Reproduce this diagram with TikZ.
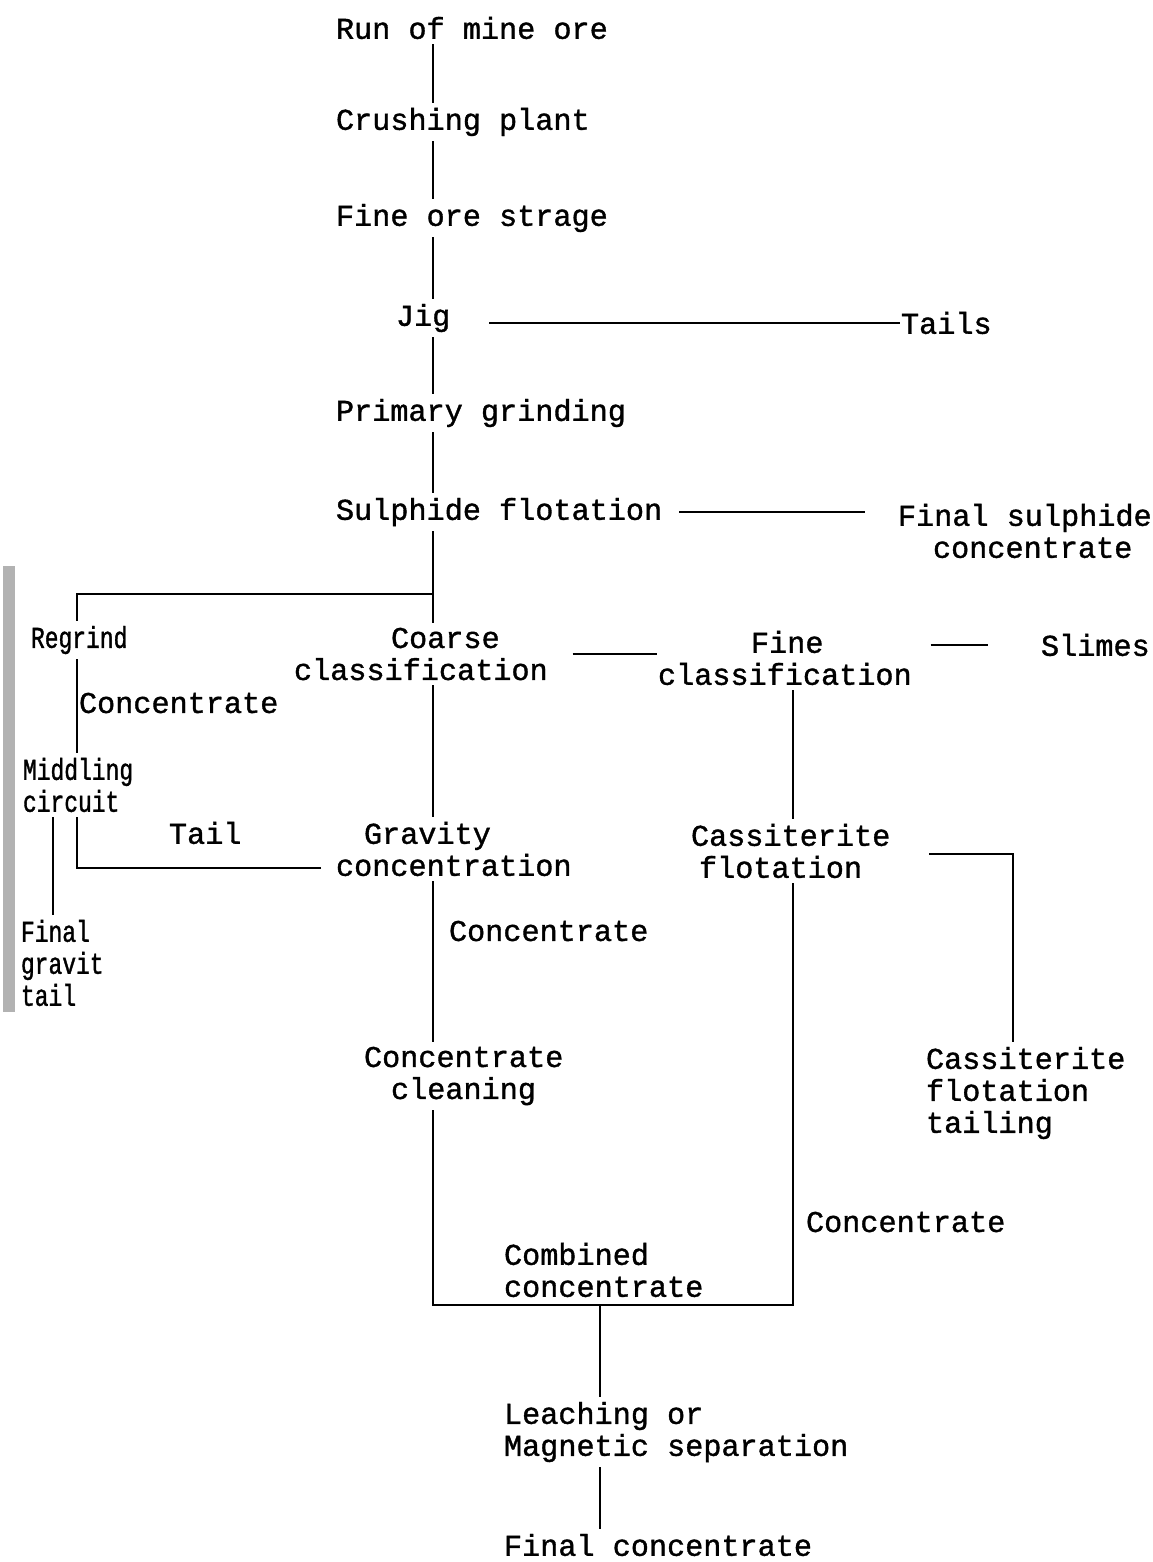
\documentclass[tikz,border=0pt]{standalone}
\usepackage{fontspec}
\newfontfamily\flowfont[FakeBold=1.2]{Liberation Mono}
\newfontfamily\narrowfont[FakeStretch=0.76,FakeBold=1.2]{Liberation Mono}
\begin{document}
\begin{tikzpicture}[x=0.5pt,y=-0.5pt,line width=1pt,
    every node/.style={font={\flowfont\fontsize{15.1pt}{16pt}\selectfont},
        inner xsep=0pt,inner ysep=2pt,anchor=west,align=left},
    narrow/.style={font={\narrowfont\fontsize{15.1pt}{16pt}\selectfont}}]
\useasboundingbox (0,0) rectangle (1152,1562);
% scanned edge
\fill[gray!60] (3,566) rectangle (15,1012);
% guide lines
\coordinate (spine) at (433,0);
\coordinate (fx) at (793,0);
\coordinate (lx) at (77,0);
\coordinate (gx) at (53,0);
\coordinate (tx) at (1013,0);
\coordinate (split) at (433,594);
\coordinate (bot) at (600,1305);
% main line
\node (run) at (335,28) {Run of mine ore};
\node (crush) at (335,122) {Crushing plant};
\node (store) at (335,218) {Fine ore strage};
\node (jig) at (395,318) {Jig};
\node (tails) at (900,323) {Tails};
\node (grind) at (335,413) {Primary grinding};
\node (sulf) at (335,512) {Sulphide flotation};
\node (finsulf) at (897,531) {Final sulphide\\\hspace*{17.5pt}concentrate};
% left side
\node[narrow] (regrind) at (30,640) {Regrind};
\node (leftconc) at (78,703) {Concentrate};
\node[narrow] (middling) at (22,785) {Middling\\circuit};
\node (tail) at (168,833) {Tail};
\node[narrow] (fgtail) at (20,963) {Final\\gravit\\tail};
% classification
\node (coarse) at (293,654) {\hspace*{48.5pt}Coarse\\classification};
\node (fine) at (657,658) {\hspace*{46.5pt}Fine\\classification};
\node (slimes) at (1040,645) {Slimes};
\node (gravity) at (335,849) {\hspace*{14pt}Gravity\\concentration};
\node (cassflot) at (690,851) {Cassiterite\\\hspace*{4pt}flotation};
\node (gravconc) at (448,931) {Concentrate};
\node (cleaning) at (363,1076) {Concentrate\\\hspace*{13.5pt}cleaning};
\node (casstail) at (925,1093) {Cassiterite\\flotation\\tailing};
\node (flotconc) at (805,1222) {Concentrate};
\node (combined) at (503,1270) {Combined\\concentrate};
\node (leach) at (503,1432) {Leaching or\\Magnetic separation};
\node (final) at (503,1545) {Final concentrate};
% connectors
\draw (run.south -| spine) -- (crush.north -| spine);
\draw (crush.south -| spine) -- (store.north -| spine);
\draw (store.south -| spine) -- (jig.north -| spine);
\draw[shorten <=19pt] (jig.east |- tails.west) -- (tails.west);
\draw (jig.south -| spine) -- (grind.north -| spine);
\draw (grind.south -| spine) -- (sulf.north -| spine);
\draw[shorten <=8pt,shorten >=16pt] (sulf.east) -- (sulf.east -| finsulf.west);
\draw (sulf.south -| spine) -- (coarse.north -| spine);
\draw (split) -| (regrind.north -| lx);
\draw (regrind.south -| lx) -- (middling.north -| lx);
\draw (middling.south -| gx) -- (fgtail.north -| gx);
\draw[shorten <=7pt] ([yshift=-9.5pt]gravity.west) -| (middling.south -| lx);
\draw[shorten <=12pt] (coarse.east) -- (coarse.east -| fine.west);
\draw[shorten <=9pt,shorten >=26pt] (fine.east |- slimes.west) -- (slimes.west);
\draw (coarse.south -| spine) -- (gravity.north -| spine);
\draw (fine.south -| fx) -- (cassflot.north -| fx);
\draw[shorten <=19pt] ([yshift=-1.5pt]cassflot.east) -| (casstail.north -| tx);
\draw (gravity.south -| spine) -- (cleaning.north -| spine);
\draw (cleaning.south -| spine) |- (bot) -| (cassflot.south -| fx);
\draw (bot) -- (bot |- leach.north);
\draw (leach.south -| bot) -- (final.north -| bot);
\end{tikzpicture}
\end{document}
